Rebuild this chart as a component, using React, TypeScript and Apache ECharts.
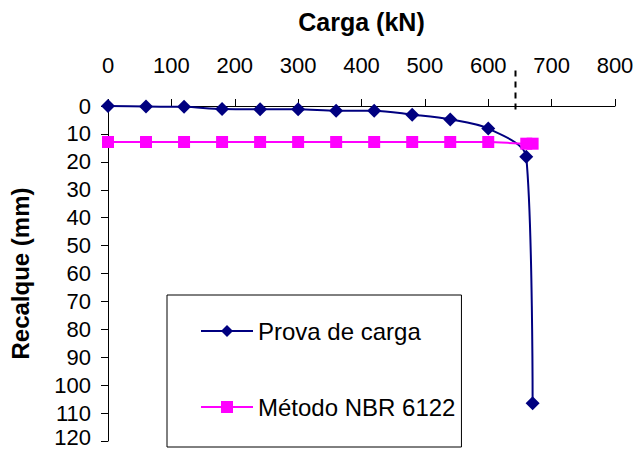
import React, { useEffect, useRef } from "react";
import * as echarts from "echarts";

const loads = [0, 60, 120, 180, 240, 300, 360, 420, 480, 540, 600, 660, 670];
const provaSettlements = [0, 0.2, 0.3, 1.1, 1.2, 1.2, 1.7, 1.7, 3.1, 4.8, 8.1, 18.2, 106.5];
const nbrSettlements = [12.9, 12.9, 12.9, 12.9, 12.9, 12.9, 12.9, 12.9, 12.9, 12.9, 12.9, 13.5, 13.5];
const seriesNames = ["Prova de carga", "Método NBR 6122"];
const ruptureLoad = 643;
const ruptureMarkSpan = [-12.7, 3];
const settlementMax = 120;

const FONT = "'Liberation Sans', Arial, sans-serif";

export default function App() {
  const ref = useRef<HTMLDivElement>(null);
  useEffect(() => {
    if (!ref.current) return;
    const chart = echarts.init(ref.current, null, { renderer: "svg" });
    const option: any = {
      animation: false,
      backgroundColor: "#fff",
      textStyle: { fontFamily: FONT },
      grid: {
        left: 108,
        right: 22,
        top: 106,
        bottom: 8,
        containLabel: false,
        outerBoundsMode: "none",
      },
      xAxis: {
        type: "value",
        position: "top",
        min: 0,
        max: 800,
        interval: 100,
        name: "Carga (kN)",
        nameLocation: "middle",
        nameGap: 72,
        nameTextStyle: { fontFamily: FONT, fontSize: 25, fontWeight: "bold", color: "#000" },
        axisLine: { show: true, onZero: false, lineStyle: { color: "#000", width: 1 } },
        axisTick: { show: true, inside: false, length: 7, lineStyle: { color: "#000" } },
        axisLabel: { fontFamily: FONT, fontSize: 22, color: "#000", margin: 30 },
        splitLine: { show: false },
      },
      yAxis: {
        type: "value",
        inverse: true,
        min: 0,
        max: settlementMax,
        interval: 10,
        name: "Recalque (mm)",
        nameLocation: "middle",
        nameGap: 76,
        nameRotate: 90,
        nameTextStyle: { fontFamily: FONT, fontSize: 24, fontWeight: "bold", color: "#000" },
        axisLine: { show: true, onZero: false, lineStyle: { color: "#000", width: 1 } },
        axisTick: { show: true, inside: false, length: 7, lineStyle: { color: "#000" } },
        axisLabel: {
          fontFamily: FONT,
          fontSize: 22,
          lineHeight: 18,
          color: "#000",
          margin: 17,
          formatter: (v: number) => (v === settlementMax ? `{last|${v}}` : `${v}`),
          rich: {
            last: { fontFamily: FONT, fontSize: 22, lineHeight: 16, color: "#000", padding: [0, 0, 8, 0] },
          },
        },
        splitLine: { show: false },
      },
      legend: {
        orient: "vertical",
        left: 167,
        top: 295,
        itemWidth: 52,
        itemHeight: 15,
        itemGap: 52,
        padding: [24, 6, 28, 33],
        borderColor: "#000",
        borderWidth: 1,
        backgroundColor: "#fff",
        textStyle: { fontFamily: FONT, fontSize: 24, color: "#000", lineHeight: 24 },
        data: seriesNames,
      },
      series: [
        {
          name: seriesNames[0],
          type: "line",
          data: loads.map((l, i) => [l, provaSettlements[i]]),
          smooth: 0.3,
          symbol: "diamond",
          symbolSize: 14,
          lineStyle: { color: "#000080", width: 2 },
          itemStyle: { color: "#000080" },
          z: 3,
        },
        {
          name: seriesNames[1],
          type: "line",
          data: loads.map((l, i) => [l, nbrSettlements[i]]),
          smooth: 0.3,
          symbol: "rect",
          symbolSize: 12,
          lineStyle: { color: "#FF00FF", width: 2 },
          itemStyle: { color: "#FF00FF" },
          z: 4,
        },
      ],
    };
    chart.setOption(option);
    const x = chart.convertToPixel({ xAxisIndex: 0 }, ruptureLoad) as number;
    const y1 = chart.convertToPixel({ yAxisIndex: 0 }, ruptureMarkSpan[0]) as number;
    const y2 = chart.convertToPixel({ yAxisIndex: 0 }, ruptureMarkSpan[1]) as number;
    chart.setOption({
      graphic: [
        {
          type: "line",
          shape: { x1: x, y1: y1, x2: x, y2: y2 },
          style: { stroke: "#000", lineWidth: 2, lineDash: [6, 5] },
          z: 10,
        },
      ],
    });
    return () => chart.dispose();
  }, []);
  return <div ref={ref} style={{ width: 637, height: 449, position: "absolute", left: 0, top: 0 }} />;
}
